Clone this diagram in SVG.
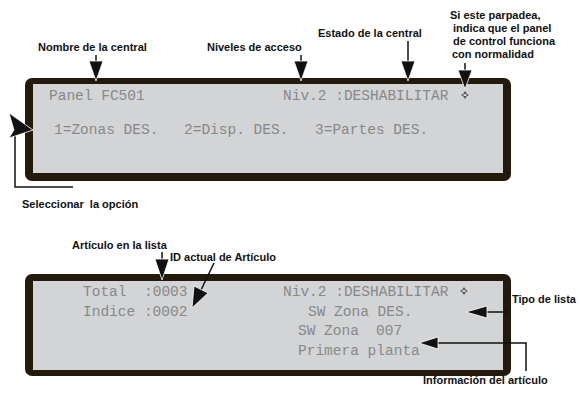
<svg xmlns="http://www.w3.org/2000/svg" width="580" height="396" viewBox="0 0 580 396">
<style>
.frame{fill:#231a0b}
.lcd{fill:#d3d4d6}
.lt{font-family:"Liberation Mono","DejaVu Sans Mono",monospace;font-size:14.5px;fill:#888888}
.lab{font-family:"Liberation Sans",Arial,sans-serif;font-size:11px;font-weight:bold;fill:#111}
.ln{stroke:#111;stroke-width:1.5;fill:none}
.hd{fill:#111;stroke:#fff;stroke-width:0.8}
.sym{fill:#555}
</style>
<defs>
<g id="blink">
<path class="sym" d="M0,-4 L-2,-1 L2,-1 Z M0,4 L-2,1 L2,1 Z M-4,0 L-1.5,-1.5 L-1.5,1.5 Z M4,0 L1.5,-1.5 L1.5,1.5 Z"/>
</g>
</defs>

<g id="panel1">
<rect class="frame" x="25" y="78" width="486" height="103" rx="7"/>
<rect class="lcd" x="33" y="84" width="470" height="89"/>
<text class="lt" x="49" y="100">Panel FC501</text>
<text class="lt" x="283" y="100">Niv.2 :DESHABILITAR</text>
<use href="#blink" x="465" y="95"/>
<text class="lt" x="54" y="134">1=Zonas DES.</text>
<text class="lt" x="184" y="134">2=Disp. DES.</text>
<text class="lt" x="315" y="134">3=Partes DES.</text>
</g>

<g id="panel2">
<rect class="frame" x="25" y="274" width="486" height="102" rx="7"/>
<rect class="lcd" x="33" y="281" width="470" height="89"/>
<text class="lt" x="83" y="296">Total</text>
<text class="lt" x="144" y="296">:0003</text>
<text class="lt" x="83" y="316">Indice :0002</text>
<text class="lt" x="283" y="296">Niv.2 :DESHABILITAR</text>
<use href="#blink" x="464" y="291"/>
<text class="lt" x="308" y="316">SW Zona DES.</text>
<text class="lt" x="298" y="335">SW Zona</text>
<text class="lt" x="376" y="335">007</text>
<text class="lt" x="298" y="355">Primera planta</text>
</g>

<g id="labels">
<text class="lab" x="38" y="51">Nombre de la central</text>
<text class="lab" x="207" y="51">Niveles de acceso</text>
<text class="lab" x="318" y="37">Estado de la central</text>
<text class="lab" x="450" y="19">Si este parpadea,</text>
<text class="lab" x="453" y="32">indica que el panel</text>
<text class="lab" x="453" y="45">de control funciona</text>
<text class="lab" x="452" y="58">con normalidad</text>
<text class="lab" x="22" y="208" xml:space="preserve">Seleccionar  la opción</text>
<text class="lab" x="72" y="249">Artículo en la lista</text>
<text class="lab" x="170" y="261">ID actual de Artículo</text>
<text class="lab" x="512" y="303">Tipo de lista</text>
<text class="lab" x="423" y="384">Información del artículo</text>
</g>

<g id="connectors">
<path class="ln" d="M96,55 V63"/>
<path class="hd" d="M89,61 L103,61 L96,81 Z"/>
<path class="ln" d="M301,55 V63"/>
<path class="hd" d="M294,61 L308,61 L301,81 Z"/>
<path class="ln" d="M408,41 V63"/>
<path class="hd" d="M401,61 L415,61 L408,81 Z"/>
<path class="ln" d="M465,63 V72"/>
<path class="hd" d="M458,70 L472,70 L465,89 Z"/>
<path class="ln" d="M15,130 V187 H73"/>
<path class="hd" d="M9,113 L33,130 L9,138 L14,130 Z"/>
<path class="ln" d="M162,252 V261"/>
<path class="hd" d="M155,259 L169,259 L162,280 Z"/>
<path class="ln" d="M214,263 L201,290"/>
<path class="hd" d="M194,286 L208,293 L192,308 Z"/>
<path class="ln" d="M485,312 H508"/>
<path class="hd" d="M487,306 L487,318 L466,312 Z"/>
<path class="ln" d="M436,343 H526 V371"/>
<path class="hd" d="M438,337 L438,349 L419,343 Z"/>
</g>
</svg>
